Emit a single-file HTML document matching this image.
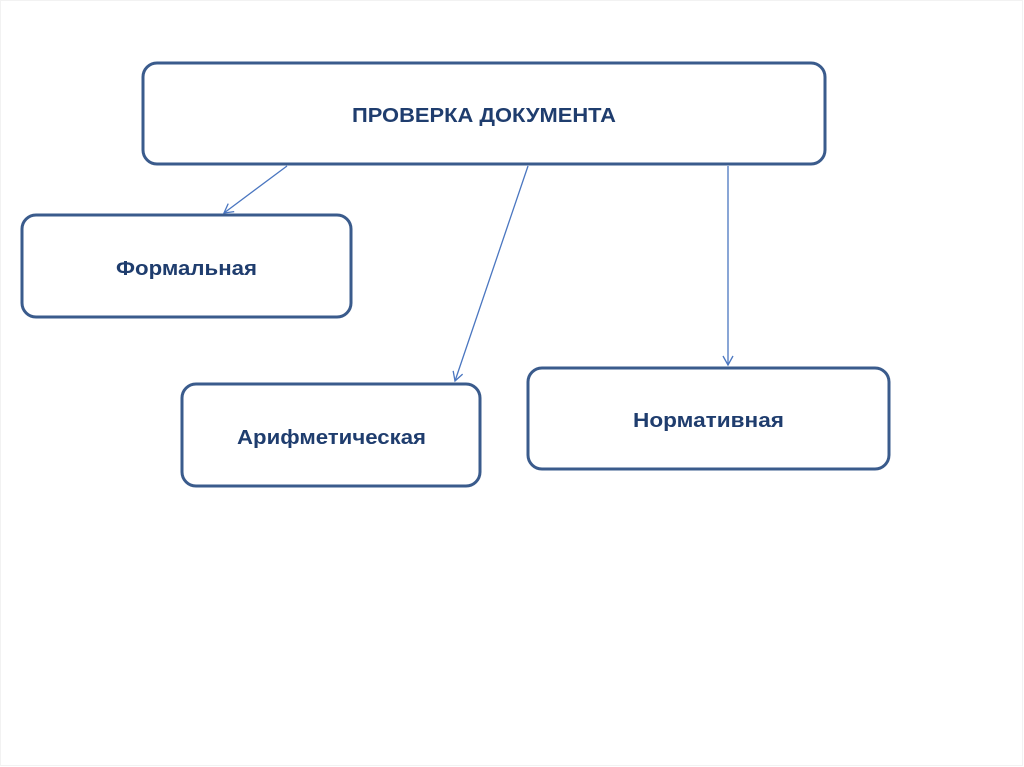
<!DOCTYPE html>
<html><head><meta charset="utf-8"><style>
html,body{margin:0;padding:0;background:#fff}
svg{display:block}
text{font-family:"Liberation Sans","DejaVu Sans",sans-serif;font-weight:bold;fill:#1f3d6e;font-size:20px}
</style></head><body>
<svg width="1024" height="767" viewBox="0 0 1024 767" xmlns="http://www.w3.org/2000/svg">
<rect x="0.5" y="0.5" width="1022" height="765" fill="#fff" stroke="#f2f2f2"/>
<defs><marker id="a" markerWidth="12" markerHeight="12" refX="10" refY="6" orient="auto" markerUnits="userSpaceOnUse">
<path d="M1,1 L10,6 L1,11" fill="none" stroke="#4a76c0" stroke-width="1.3"/></marker></defs>
<g fill="#fff" stroke="#3a5b8c" stroke-width="3">
<rect x="143" y="63" width="682" height="101" rx="14"/>
<rect x="22" y="215" width="329" height="102" rx="14"/>
<rect x="182" y="384" width="298" height="102" rx="14"/>
<rect x="528" y="368" width="361" height="101" rx="14"/>
</g>
<g stroke="#4a76c0" stroke-width="1.3" fill="none" marker-end="url(#a)">
<line x1="287" y1="166" x2="224" y2="213"/>
<line x1="528" y1="166" x2="455" y2="381"/>
<line x1="728" y1="166" x2="728" y2="365"/>
</g>
<text x="352" y="122" textLength="264" lengthAdjust="spacingAndGlyphs">ПРОВЕРКА ДОКУМЕНТА</text>
<text x="116" y="275" textLength="141" lengthAdjust="spacingAndGlyphs">Формальная</text>
<text x="237" y="444" textLength="189" lengthAdjust="spacingAndGlyphs">Арифметическая</text>
<text x="633" y="427" textLength="151" lengthAdjust="spacingAndGlyphs">Нормативная</text>
</svg>
</body></html>
